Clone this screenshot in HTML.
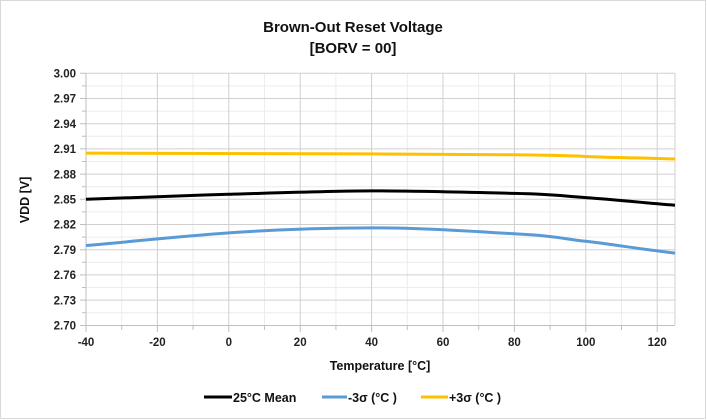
<!DOCTYPE html>
<html><head><style>
body{margin:0;background:#fff}
svg{display:block;font-family:"Liberation Sans",sans-serif;font-weight:bold}
</style></head><body>
<svg width="707" height="420" viewBox="0 0 707 420">
<rect x="0.5" y="0.5" width="705" height="418" fill="#fff" stroke="#d9d9d9"/>
<text x="353" y="32" font-size="15" text-anchor="middle" fill="#111">Brown-Out Reset Voltage</text>
<text x="353" y="53" font-size="15" text-anchor="middle" fill="#111">[BORV = 00]</text>
<g stroke="#ececec" stroke-width="1">
<line x1="86" x2="675" y1="85.9" y2="85.9"/><line x1="86" x2="675" y1="111.1" y2="111.1"/><line x1="86" x2="675" y1="136.3" y2="136.3"/><line x1="86" x2="675" y1="161.5" y2="161.5"/><line x1="86" x2="675" y1="186.7" y2="186.7"/><line x1="86" x2="675" y1="211.9" y2="211.9"/><line x1="86" x2="675" y1="237.1" y2="237.1"/><line x1="86" x2="675" y1="262.3" y2="262.3"/><line x1="86" x2="675" y1="287.5" y2="287.5"/><line x1="86" x2="675" y1="312.7" y2="312.7"/>
<line y1="73" y2="325" x1="121.7" x2="121.7"/><line y1="73" y2="325" x1="193.1" x2="193.1"/><line y1="73" y2="325" x1="264.5" x2="264.5"/><line y1="73" y2="325" x1="335.9" x2="335.9"/><line y1="73" y2="325" x1="407.3" x2="407.3"/><line y1="73" y2="325" x1="478.7" x2="478.7"/><line y1="73" y2="325" x1="550.1" x2="550.1"/><line y1="73" y2="325" x1="621.5" x2="621.5"/>
</g>
<g stroke="#d0d0d0" stroke-width="1">
<line x1="86" x2="675" y1="73.3" y2="73.3"/><line x1="86" x2="675" y1="98.5" y2="98.5"/><line x1="86" x2="675" y1="123.7" y2="123.7"/><line x1="86" x2="675" y1="148.9" y2="148.9"/><line x1="86" x2="675" y1="174.1" y2="174.1"/><line x1="86" x2="675" y1="199.3" y2="199.3"/><line x1="86" x2="675" y1="224.5" y2="224.5"/><line x1="86" x2="675" y1="249.7" y2="249.7"/><line x1="86" x2="675" y1="274.9" y2="274.9"/><line x1="86" x2="675" y1="300.1" y2="300.1"/>
<line y1="73" y2="325" x1="157.4" x2="157.4"/><line y1="73" y2="325" x1="228.8" x2="228.8"/><line y1="73" y2="325" x1="300.2" x2="300.2"/><line y1="73" y2="325" x1="371.6" x2="371.6"/><line y1="73" y2="325" x1="443" x2="443" /><line y1="73" y2="325" x1="514.4" x2="514.4"/><line y1="73" y2="325" x1="585.8" x2="585.8"/><line y1="73" y2="325" x1="657.2" x2="657.2"/>
<line y1="73" y2="325" x1="675" x2="675"/>
</g>
<g stroke="#bfbfbf" stroke-width="1">
<line x1="86" x2="86" y1="73" y2="326"/><line x1="80" x2="675" y1="325.5" y2="325.5"/>
<path d="M80 73.3H86M80 98.5H86M80 123.7H86M80 148.9H86M80 174.1H86M80 199.3H86M80 224.5H86M80 249.7H86M80 274.9H86M80 300.1H86M82 85.9H86M82 111.1H86M82 136.3H86M82 161.5H86M82 186.7H86M82 211.9H86M82 237.1H86M82 262.3H86M82 287.5H86M82 312.7H86"/>
<path d="M86 325V332M157.4 325V332M228.8 325V332M300.2 325V332M371.6 325V332M443 325V332M514.4 325V332M585.8 325V332M657.2 325V332M121.7 325V330M193.1 325V330M264.5 325V330M335.9 325V330M407.3 325V330M478.7 325V330M550.1 325V330M621.5 325V330"/>
</g>
<g font-size="11.5" fill="#222" text-anchor="end">
<text x="76" y="77.5">3.00</text><text x="76" y="102.7">2.97</text><text x="76" y="127.9">2.94</text><text x="76" y="153.1">2.91</text><text x="76" y="178.3">2.88</text><text x="76" y="203.5">2.85</text><text x="76" y="228.7">2.82</text><text x="76" y="253.9">2.79</text><text x="76" y="279.1">2.76</text><text x="76" y="304.3">2.73</text><text x="76" y="329.5">2.70</text>
</g>
<g font-size="11.5" fill="#222" text-anchor="middle">
<text x="86" y="346">-40</text><text x="157.4" y="346">-20</text><text x="228.8" y="346">0</text><text x="300.2" y="346">20</text><text x="371.6" y="346">40</text><text x="443" y="346">60</text><text x="514.4" y="346">80</text><text x="585.8" y="346">100</text><text x="657.2" y="346">120</text>
</g>
<text x="380" y="370" font-size="12.5" text-anchor="middle" fill="#111">Temperature [°C]</text>
<text transform="translate(29,200) rotate(-90)" font-size="12.5" text-anchor="middle" fill="#111">VDD [V]</text>
<g fill="none" stroke-width="3" stroke-linejoin="round">
<path stroke="#ffc000" d="M86 153.1C200 153.3 300 153.6 371.6 153.9S480 154.4 514.4 154.8S570 155.6 585.8 156.5S640 157.8 675 159"/>
<path stroke="#000" d="M86 199.3C130 197.4 180 195.7 228.8 194.3S330 191 371.6 190.9S470 192.4 514.4 193.4S560 196 585.8 197.6S640 202.5 675 205.2"/>
<path stroke="#5b9bd5" d="M86 245.5C130 241.8 180 236.3 228.8 232.9S320 228 371.6 227.9S470 231.3 514.4 233.8S560 238.4 585.8 241.3S640 249 675 253.1"/>
</g>
<g stroke-width="3">
<line x1="204" x2="232" y1="397" y2="397" stroke="#000"/>
<line x1="322" x2="347" y1="397" y2="397" stroke="#5b9bd5"/>
<line x1="421" x2="448" y1="397" y2="397" stroke="#ffc000"/>
</g>
<g font-size="12.5" fill="#111">
<text x="233" y="402">25°C Mean</text>
<text x="348" y="402">-3σ (°C )</text>
<text x="449" y="402">+3σ (°C )</text>
</g>
</svg>
</body></html>
